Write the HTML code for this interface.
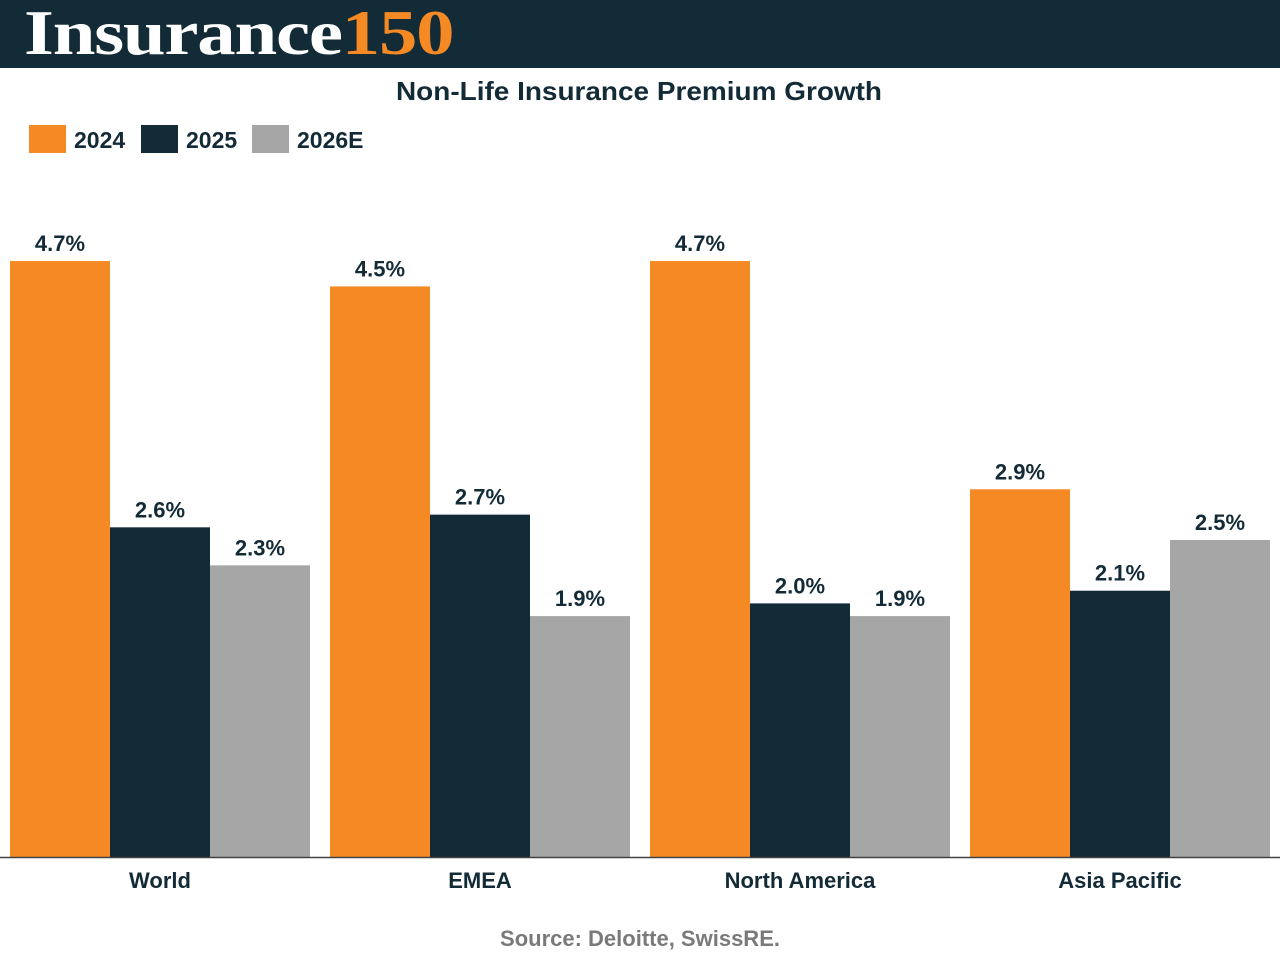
<!DOCTYPE html>
<html><head><meta charset="utf-8"><style>
body{margin:0;width:1280px;height:960px;background:#fff;overflow:hidden;font-family:"Liberation Sans",sans-serif}
.hdr{position:absolute;left:0;top:0;width:1280px;height:68px;background:#132a37}
.logo{position:absolute;left:24px;top:-4px;font-family:"Liberation Serif",serif;font-weight:bold;font-size:64px;color:#fff;letter-spacing:-1px;transform-origin:0 0;transform:scaleX(1.2);white-space:nowrap}
.logo span{color:#f58a25}
</style></head><body>
<div class="hdr"><div class="logo">Insurance<span>150</span></div></div>
<svg id="c" width="1280" height="960" style="position:absolute;left:0;top:0"></svg>
<script>
const categories=["World","EMEA","North America","Asia Pacific"];
const seriesNames=["2024","2025","2026E"];
const s2024=[4.7,4.5,4.7,2.9];
const s2025=[2.6,2.7,2.0,2.1];
const s2026=[2.3,1.9,1.9,2.5];
const colors=["#f58a25","#132a37","#a6a6a6"];
const svg=document.getElementById('c');
const NS="http://www.w3.org/2000/svg";
function mk(t,a,p){const e=document.createElementNS(NS,t);for(const k in a)e.setAttribute(k,a[k]);(p||svg).appendChild(e);return e;}
const base=857,scale=126.8;
const y=v=>base-v*scale;
const x=(ci,si)=>10+ci*320+si*100;
let t=mk('text',{x:396,y:100,'font-size':26,'font-weight':'bold',fill:'#132a37',textLength:486,lengthAdjust:'spacingAndGlyphs'});t.textContent="Non-Life Insurance Premium Growth";


const lx=[29,141,252];
seriesNames.forEach((n,i)=>{
 const g=mk('g',{});
 
 
 mk('rect',{x:lx[i],y:125,width:37,height:28,fill:colors[i]},g);
 const tt=mk('text',{x:lx[i]+45,y:148,'font-size':23,'font-weight':'bold',fill:'#132a37'},g);tt.textContent=n;
});
const series=[s2024,s2025,s2026];
categories.forEach((c,ci)=>{
 series.forEach((s,si)=>{
  const r=mk('rect',{x:x(ci,si),y:y(s[ci]),width:100,height:s[ci]*scale,fill:colors[si]});
  
  
  const l=mk('text',{x:x(ci,si)+50,y:y(s[ci])-10,'text-anchor':'middle','font-size':22,'font-weight':'bold',fill:'#132a37'});
  l.textContent=s[ci].toFixed(1)+'%';
  
  
 });
 const cl=mk('text',{x:x(ci,1)+50,y:888,'text-anchor':'middle','font-size':22,'font-weight':'bold',fill:'#132a37'});
 cl.textContent=c;
 
 
});
const ax=mk('line',{x1:0,x2:1280,y1:857.5,y2:857.5,stroke:'#444','stroke-width':1.5});


const src=mk('text',{x:640,y:946,'text-anchor':'middle','font-size':22,'font-weight':'bold',fill:'#7a7a7a'});
src.textContent="Source: Deloitte, SwissRE.";


</script>
</body></html>
